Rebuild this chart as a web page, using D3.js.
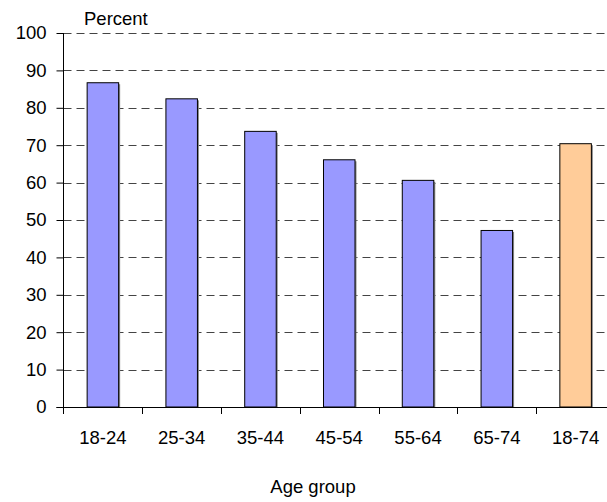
<!DOCTYPE html>
<html>
<head>
<meta charset="utf-8">
<script src="https://cdn.jsdelivr.net/npm/d3@7"></script>
<style>
  html, body { margin: 0; padding: 0; background: #fff; }
  svg { display: block; font-family: "Liberation Sans", Arial, sans-serif; }
</style>
</head>
<body>
<svg id="chart" width="607" height="502"></svg>
<script>
// Share by age group, percent
const categories = ["18-24", "25-34", "35-44", "45-54", "55-64", "65-74", "18-74"];
const values = [86.7, 82.4, 73.7, 66.1, 60.6, 47.2, 70.4];
const barColors = ["#9999ff", "#9999ff", "#9999ff", "#9999ff", "#9999ff", "#9999ff", "#ffcc99"];
const yTicks = [0, 10, 20, 30, 40, 50, 60, 70, 80, 90, 100];

const svg = d3.select("#chart");
const plotLeft = 63.5;
const plotTop = 33;
const plotRight = 615;
const plotBottom = 407;
const fontSize = 18.5;

const x = d3.scaleBand()
  .domain(categories)
  .range([plotLeft, plotRight])
  .paddingInner(0.6)
  .paddingOuter(0.3);

const y = d3.scaleLinear()
  .domain([0, 100])
  .range([plotBottom, plotTop]);

// dashed horizontal gridlines
svg.append("g")
  .selectAll("line")
  .data(yTicks.filter(d => d > 0))
  .join("line")
  .attr("x1", plotLeft)
  .attr("x2", plotRight)
  .attr("y1", d => Math.round(y(d)) + 0.5)
  .attr("y2", d => Math.round(y(d)) + 0.5)
  .attr("stroke", "#444")
  .attr("stroke-width", 1)
  .attr("stroke-dasharray", "8,5");

// bar shadows
svg.append("g")
  .selectAll("rect")
  .data(values)
  .join("rect")
  .attr("x", (d, i) => x(categories[i]) + 1.5)
  .attr("y", d => y(d) + 1.5)
  .attr("width", x.bandwidth())
  .attr("height", d => plotBottom - y(d) - 1.5)
  .attr("fill", "#888");

// bars
svg.append("g")
  .selectAll("rect")
  .data(values)
  .join("rect")
  .attr("x", (d, i) => x(categories[i]))
  .attr("y", d => y(d))
  .attr("width", x.bandwidth())
  .attr("height", d => plotBottom - y(d))
  .attr("fill", (d, i) => barColors[i])
  .attr("stroke", "#000")
  .attr("stroke-width", 1);

// y axis
const yAxis = d3.axisLeft(y)
  .tickValues(yTicks)
  .tickSize(7)
  .tickPadding(10)
  .tickFormat(d3.format("d"));

const yg = svg.append("g")
  .attr("transform", `translate(${plotLeft},0)`)
  .call(yAxis);
yg.select(".domain").attr("d", `M0,${plotTop}V${plotBottom}`).attr("stroke", "#000");
yg.selectAll(".tick line").attr("stroke", "#000");
yg.selectAll(".tick text")
  .attr("font-size", fontSize)
  .attr("fill", "#000")
  .attr("font-family", "Liberation Sans, Arial, sans-serif");

// x axis with ticks at category boundaries
const xg = svg.append("g");
xg.append("line")
  .attr("x1", plotLeft - 7)
  .attr("x2", plotRight)
  .attr("y1", plotBottom + 0.5)
  .attr("y2", plotBottom + 0.5)
  .attr("stroke", "#000");
const boundary = d => Math.round(x(d) - x.step() * x.paddingInner() / 2) + 0.5;
xg.selectAll(".xtick")
  .data(categories)
  .join("line")
  .attr("class", "xtick")
  .attr("x1", boundary)
  .attr("x2", boundary)
  .attr("y1", plotBottom)
  .attr("y2", plotBottom + 7)
  .attr("stroke", "#000");
xg.selectAll(".xlabel")
  .data(categories)
  .join("text")
  .attr("class", "xlabel")
  .attr("x", d => x(d) + x.bandwidth() / 2)
  .attr("y", 444)
  .attr("text-anchor", "middle")
  .attr("font-size", fontSize)
  .attr("fill", "#000")
  .text(d => d);

// axis titles
svg.append("text")
  .attr("x", 84)
  .attr("y", 25)
  .attr("font-size", fontSize)
  .attr("fill", "#000")
  .text("Percent");

svg.append("text")
  .attr("x", 313)
  .attr("y", 493)
  .attr("text-anchor", "middle")
  .attr("font-size", fontSize)
  .attr("fill", "#000")
  .text("Age group");
</script>
</body>
</html>
